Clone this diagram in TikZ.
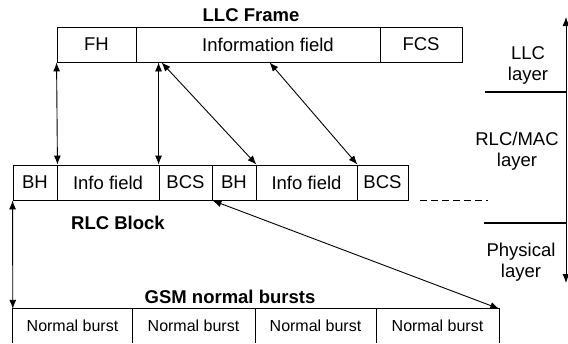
\documentclass[tikz,border=0pt]{standalone}
\usepackage{fontspec}
\setmainfont{Liberation Sans}
\usetikzlibrary{arrows.meta,calc}
\begin{document}
\begin{tikzpicture}[x=1pt,y=-1pt,
  ln/.style={line width=0.9pt},
  cell/.style={draw,line width=0.9pt,inner sep=0pt,minimum height=35pt,font=\fontsize{18.5}{22}\selectfont},
  bcell/.style={inner sep=0pt,minimum height=34pt,font=\fontsize{16}{19}\selectfont},
  ttl/.style={inner sep=0pt,font=\fontsize{18.5}{22}\selectfont\bfseries},
  lay/.style={inner sep=0pt,align=center,font=\fontsize{18.5}{21}\selectfont},
  dbl/.style={line width=0.9pt,{Latex[length=9pt,width=7pt]}-{Latex[length=9pt,width=7pt]}}]
\useasboundingbox (0,0) rectangle (568,343);
% LLC frame
\node[cell,minimum width=79pt] (fh) at (96.5,44.5) {FH};
\node[cell,minimum width=244pt] (info) at (258,44.5) {\hspace*{20pt}Information field};
\node[cell,minimum width=82pt] (fcs) at (421,44.5) {FCS};
\node[ttl] (llcT) at (251,15.5) {LLC Frame};
% RLC blocks
\node[cell,minimum width=44pt] (bh1) at (35,182.5) {BH};
\node[cell,minimum width=102pt] (if1) at (108,182.5) {Info field};
\node[cell,minimum width=53pt] (bcs1) at (185.5,182.5) {BCS};
\node[cell,minimum width=44pt] (bh2) at (234,182.5) {BH};
\node[cell,minimum width=101pt] (if2) at (306.5,182.5) {Info field};
\node[cell,minimum width=51pt] (bcs2) at (382.5,182.5) {BCS};
\node[ttl] (rlcT) at (118,223) {RLC Block};
\coordinate (dA) at ($(bcs2.south east)+(12,0)$);
\coordinate (dB) at ($(bcs2.south east)+(80,0)$);
\draw[ln,dash pattern=on 7pt off 4pt] (dA) -- (dB);
% GSM bursts
\node[bcell,minimum width=119pt] (nb1) at (72.5,326) {Normal burst};
\node[bcell,minimum width=123pt] (nb2) at (193.5,326) {Normal burst};
\node[bcell,minimum width=121pt] (nb3) at (315.5,326) {Normal burst};
\node[bcell,minimum width=123pt] (nb4) at (437.5,326) {Normal burst};
\draw[ln] (nb1.south west) -- (nb1.north west) -- (nb4.north east) -- (nb4.south east);
\draw[ln] (nb1.north east) -- (nb1.south east);
\draw[ln] (nb2.north east) -- (nb2.south east);
\draw[ln] (nb3.north east) -- (nb3.south east);
\node[ttl] (gsmT) at (230,297) {GSM normal bursts};
% mapping arrows
\draw[dbl] (fh.south west) -- (bh1.north east);
\draw[dbl] (info.south -| bcs1.north west) -- (bcs1.north west);
\coordinate (iA) at ($(info.south west)+(26,0)$);
\coordinate (iB) at ($(info.south west)+(134,0)$);
\draw[dbl] (iA) -- (bh2.north east);
\draw[dbl] (iB) -- (if2.north east);
\draw[dbl] (bh1.south west) -- (nb1.north west);
\draw[dbl] (bcs1.south east) -- (nb4.north east);
% layers axis
\coordinate (axT) at (566,17);
\coordinate (axB) at (566,283);
\draw[dbl] (axT) -- (axB);
\coordinate (s1) at (485,92);
\coordinate (s2) at (484,223);
\draw[line width=2.5pt] (s1) -- (s1 -| axT);
\draw[line width=2.5pt] (s2) -- (s2 -| axT);
\node[lay] (llcL) at (528,65.5) {LLC\\layer};
\node[lay] (rlcL) at (517,151) {RLC/MAC\\layer};
\node[lay] (phyL) at (521,262) {Physical\\layer};
\end{tikzpicture}
\end{document}
